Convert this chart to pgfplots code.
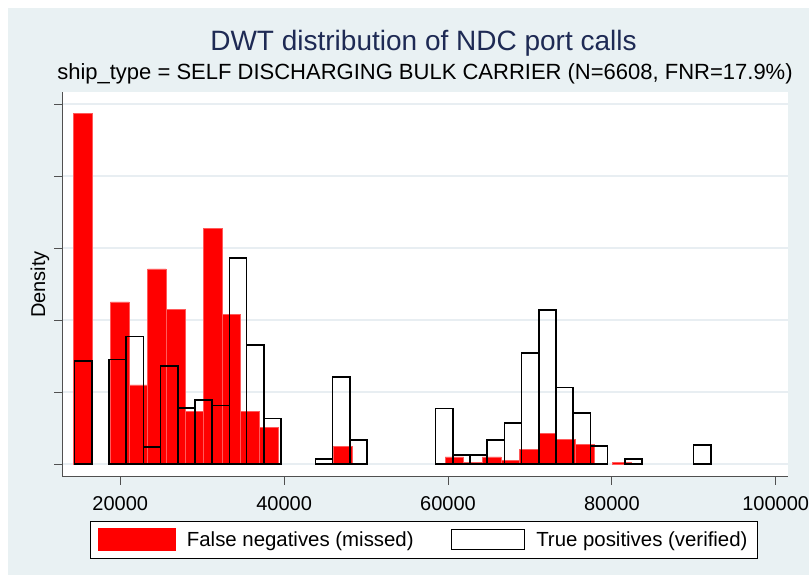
\documentclass[border=0pt]{standalone}
\usepackage{fontspec}
\setmainfont{Liberation Sans}[Ligatures=NoCommon]
\usepackage{pgfplots}
\pgfplotsset{compat=1.18}
\definecolor{bgc}{RGB}{233,241,243}
\definecolor{gridc}{RGB}{232,238,242}
\definecolor{titlec}{RGB}{30,42,84}
\definecolor{axc}{RGB}{80,80,80}
\definecolor{fnred}{RGB}{255,0,0}
\definecolor{fnedge}{RGB}{255,90,90}
\pgfplotsset{
  fnbar/.style={ybar interval, fill=fnred, draw=fnedge, line width=0.5pt},
  tpbar/.style={ybar interval, fill=none, draw=black, line width=1.6pt},
}
\begin{document}
\begin{tikzpicture}[x=1pt,y=1pt]
\path[use as bounding box, fill=white] (0,0) rectangle (809,575);
\fill[bgc] (8,0) rectangle (809,567);
\node[anchor=base, text=titlec, font=\fontsize{28}{32}\selectfont, inner sep=0pt] at (423.5,524) {DWT distribution of NDC port calls};
\node[anchor=base, font=\fontsize{22}{26}\selectfont, inner sep=0pt] at (425,495) {ship\_type = SELF DISCHARGING BULK CARRIER (N=6608, FNR=17.9\%)};
\begin{axis}[
  at={(62pt,98pt)}, anchor=south west, scale only axis,
  width=726pt, height=385pt,
  xmin=12897, xmax=101499, ymin=-0.1806, ymax=5.1667,
  axis x line*=bottom, axis y line*=left,
  axis line style={axc, line width=1pt},
  axis background/.style={fill=white},
  xtick={20000,40000,60000,80000,100000},
  xticklabels={20000,40000,60000,80000,100000},
  ytick={0,1,2,3,4,5}, yticklabels={,,,,,},
  tick align=outside, major tick length=8pt,
  tick style={axc, line width=0.8pt},
  ymajorgrids, major grid style={gridc, line width=1.5pt},
  xticklabel style={font=\fontsize{20}{24}\selectfont, inner sep=0pt, yshift=-11pt},
  ylabel={Density},
  ylabel style={font=\fontsize{20}{24}\selectfont, at={(axis description cs:-0.0303,0.5)}, anchor=center},
  legend columns=2,
  legend style={at={(axis description cs:0.0386,-0.1143)}, anchor=north west,
    draw=black, line width=0.8pt, fill=white,
    font=\fontsize{20.4}{24}\selectfont,
    inner xsep=8pt, inner ysep=7pt,
    /tikz/every odd column/.append style={column sep=9pt},
    /tikz/every even column/.append style={column sep=35pt}},
]
% False negatives (missed)
\addplot[fnbar, legend image code/.code={\draw[fill=fnred,draw=fnred] (0pt,-11pt) rectangle (77pt,11pt);}]
  coordinates {(14271,4.87) (16540,4.87)};
\addlegendentry{False negatives (missed)}
\addplot[fnbar, forget plot] coordinates {
  (18809,2.25) (21078,1.10) (23347,2.71) (25616,2.15) (27885,0.73)
  (30154,3.27) (32423,2.08) (34692,0.73) (36961,0.51) (39230,0.51)};
\addplot[fnbar, forget plot] coordinates {(46037,0.25) (48306,0.25)};
\addplot[fnbar, forget plot] coordinates {
  (59651,0.10) (61920,0.02) (64189,0.10) (66458,0.055) (68727,0.20)
  (70996,0.43) (73265,0.34) (75534,0.27) (77803,0.27)};
\addplot[fnbar, forget plot] coordinates {(80072,0.03) (82341,0.03)};
% True positives (verified)
\addplot[tpbar, legend image code/.code={\draw[fill=white,draw=black,line width=1.6pt] (0pt,-10pt) rectangle (73pt,10pt);}]
  coordinates {(14443,1.43) (16541,1.43)};
\addlegendentry{True positives (verified)}
\addplot[tpbar, forget plot] coordinates {
  (18639,1.45) (20737,1.77) (22835,0.24) (24933,1.36) (27031,0.78)
  (29129,0.89) (31227,0.81) (33325,2.86) (35423,1.65) (37521,0.63) (39619,0.63)};
\addplot[tpbar, forget plot] coordinates {(43815,0.07) (45913,1.21) (48011,0.33) (50109,0.33)};
\addplot[tpbar, forget plot] coordinates {
  (58501,0.77) (60599,0.125) (62697,0.125) (64795,0.33) (66893,0.57)
  (68991,1.54) (71089,2.14) (73187,1.06) (75285,0.71) (77383,0.25) (79481,0.25)};
\addplot[tpbar, forget plot] coordinates {(81579,0.07) (83677,0.07)};
\addplot[tpbar, forget plot] coordinates {(89971,0.26) (92069,0.26)};
\end{axis}
\end{tikzpicture}
\end{document}
